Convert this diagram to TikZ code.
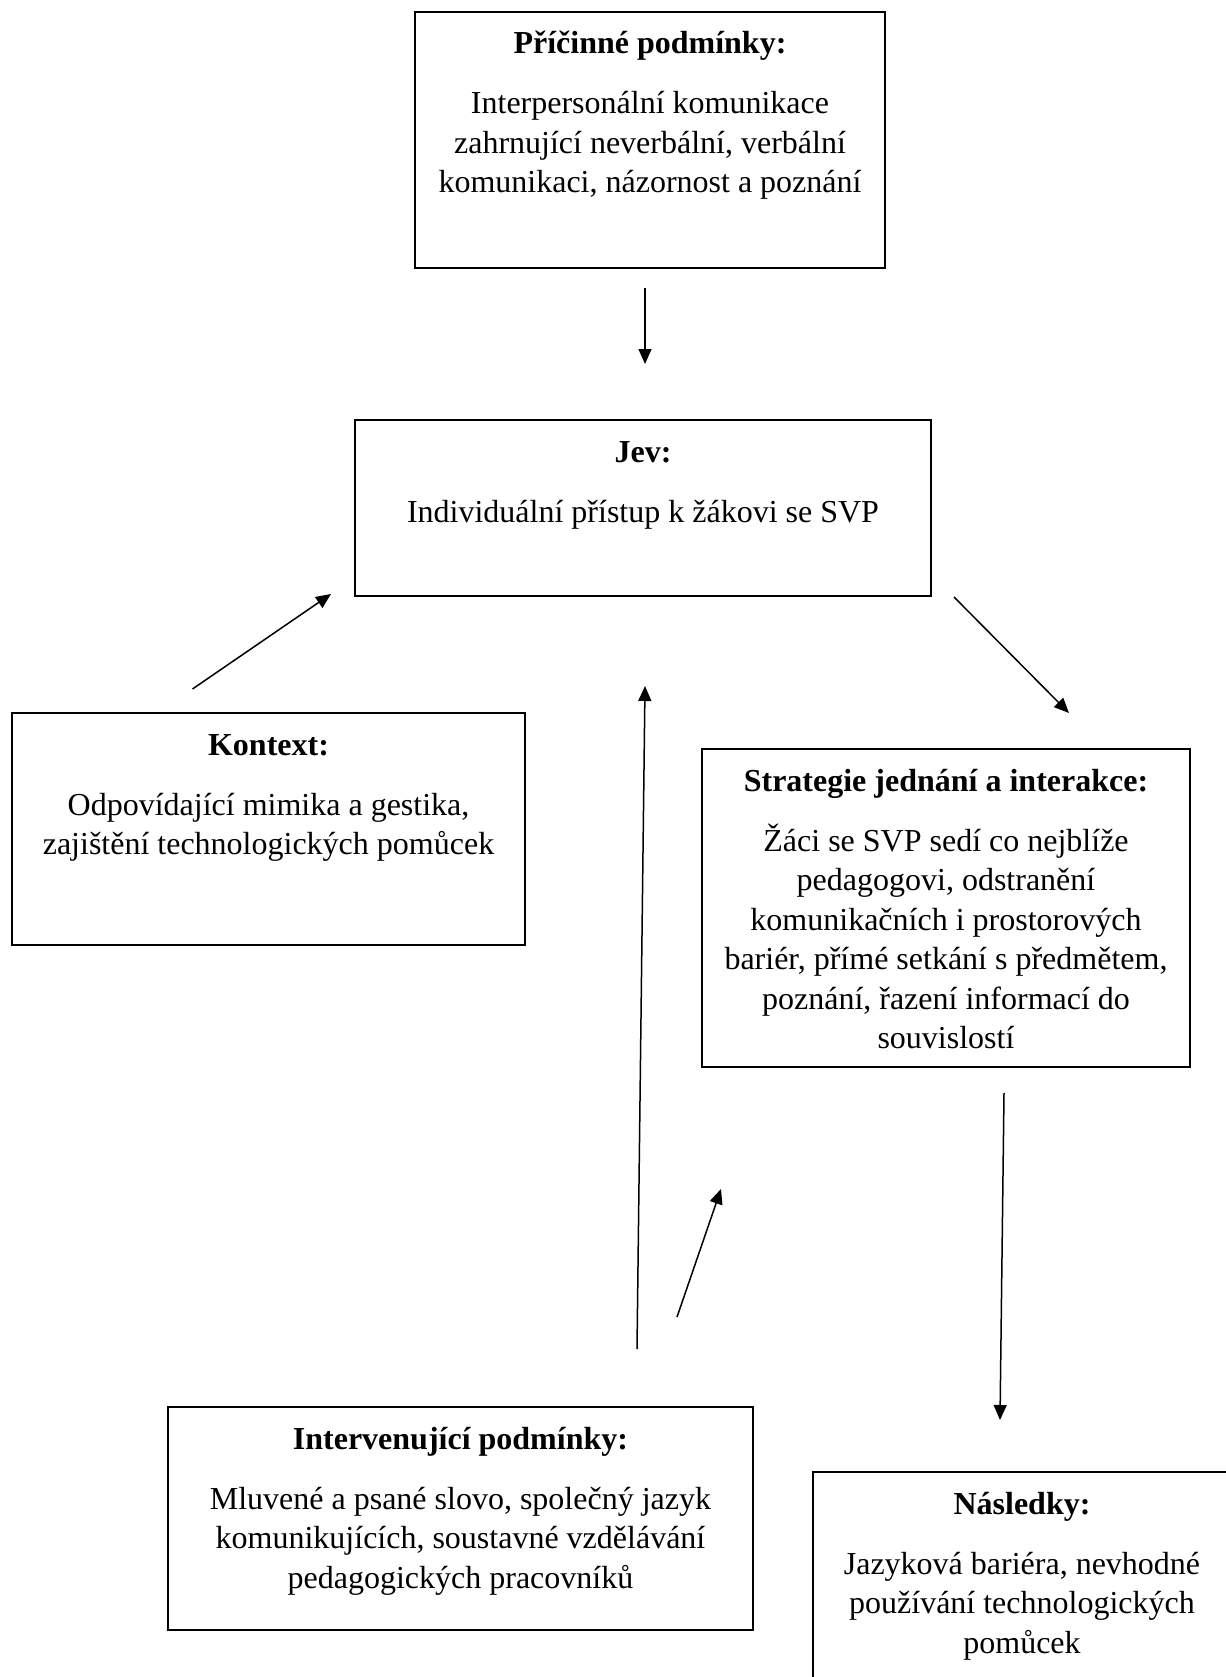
\documentclass[tikz,border=0pt]{standalone}
\usepackage{fontspec}
\setmainfont{Liberation Serif}
\usetikzlibrary{arrows.meta}
\tikzset{
  box/.style={draw, line width=2pt, inner sep=0pt, font=\fontsize{32}{39.5}\selectfont},
  arr/.style={line width=1.5pt, -{Triangle[length=15pt,width=13pt]}},
}
% box text: width, height, title, body
\newcommand{\boxtext}[4]{\parbox[c][#2pt][t]{#1pt}{\centering\rule{0pt}{42pt}\textbf{#3}\par\vspace{20.5pt}#4}}
\begin{document}
\begin{tikzpicture}[x=1pt,y=-1pt]
  \useasboundingbox (0,0) rectangle (1225,1677);
  % boxes
  \node[box] (cause) at (650,140) {\boxtext{470}{256}{Příčinné podmínky:}{Interpersonální komunikace\\ zahrnující neverbální, verbální\\ komunikaci, názornost a poznání}};
  \node[box] (jev) at (643,508) {\boxtext{576}{176}{Jev:}{Individuální přístup k žákovi se SVP}};
  \node[box] (ctx) at (268.5,829) {\boxtext{513}{232}{Kontext:}{Odpovídající mimika a gestika,\\ zajištění technologických pomůcek}};
  \node[box] (strat) at (946,908) {\boxtext{488}{318}{Strategie jednání a interakce:}{Žáci se SVP sedí co nejblíže\\ pedagogovi, odstranění\\ komunikačních i prostorových\\ bariér, přímé setkání s předmětem,\\ poznání, řazení informací do\\ souvislostí}};
  \node[box] (interv) at (460.5,1518.5) {\boxtext{585}{223}{Intervenující podmínky:}{Mluvené a psané slovo, společný jazyk\\ komunikujících, soustavné vzdělávání\\ pedagogických pracovníků}};
  \node[box] (cons) at (1022,1602) {\boxtext{418}{260}{Následky:}{Jazyková bariéra, nevhodné\\ používání technologických\\ pomůcek}};
  % arrows
  \draw[arr] ([xshift=-5pt,yshift=-19pt]cause.south) -- ([xshift=2pt,yshift=55pt]jev.north);
  \draw[arr] ([xshift=-76pt,yshift=23pt]ctx.north) -- ([xshift=-23pt,yshift=3pt]jev.south west);
  \draw[arr] ([xshift=22pt]jev.south east) -- ([xshift=123pt,yshift=35pt]strat.north);
  \draw[arr] ([xshift=58pt,yshift=-25pt]strat.south) -- ([xshift=-22pt,yshift=51pt]cons.north);
  \draw[arr] ([xshift=176.5pt,yshift=57pt]interv.north) -- ([xshift=2pt,yshift=-89pt]jev.south);
  \draw[arr] ([xshift=-77pt,yshift=89pt]interv.north east) -- ([xshift=20pt,yshift=-121pt]strat.south west);
\end{tikzpicture}
\end{document}
